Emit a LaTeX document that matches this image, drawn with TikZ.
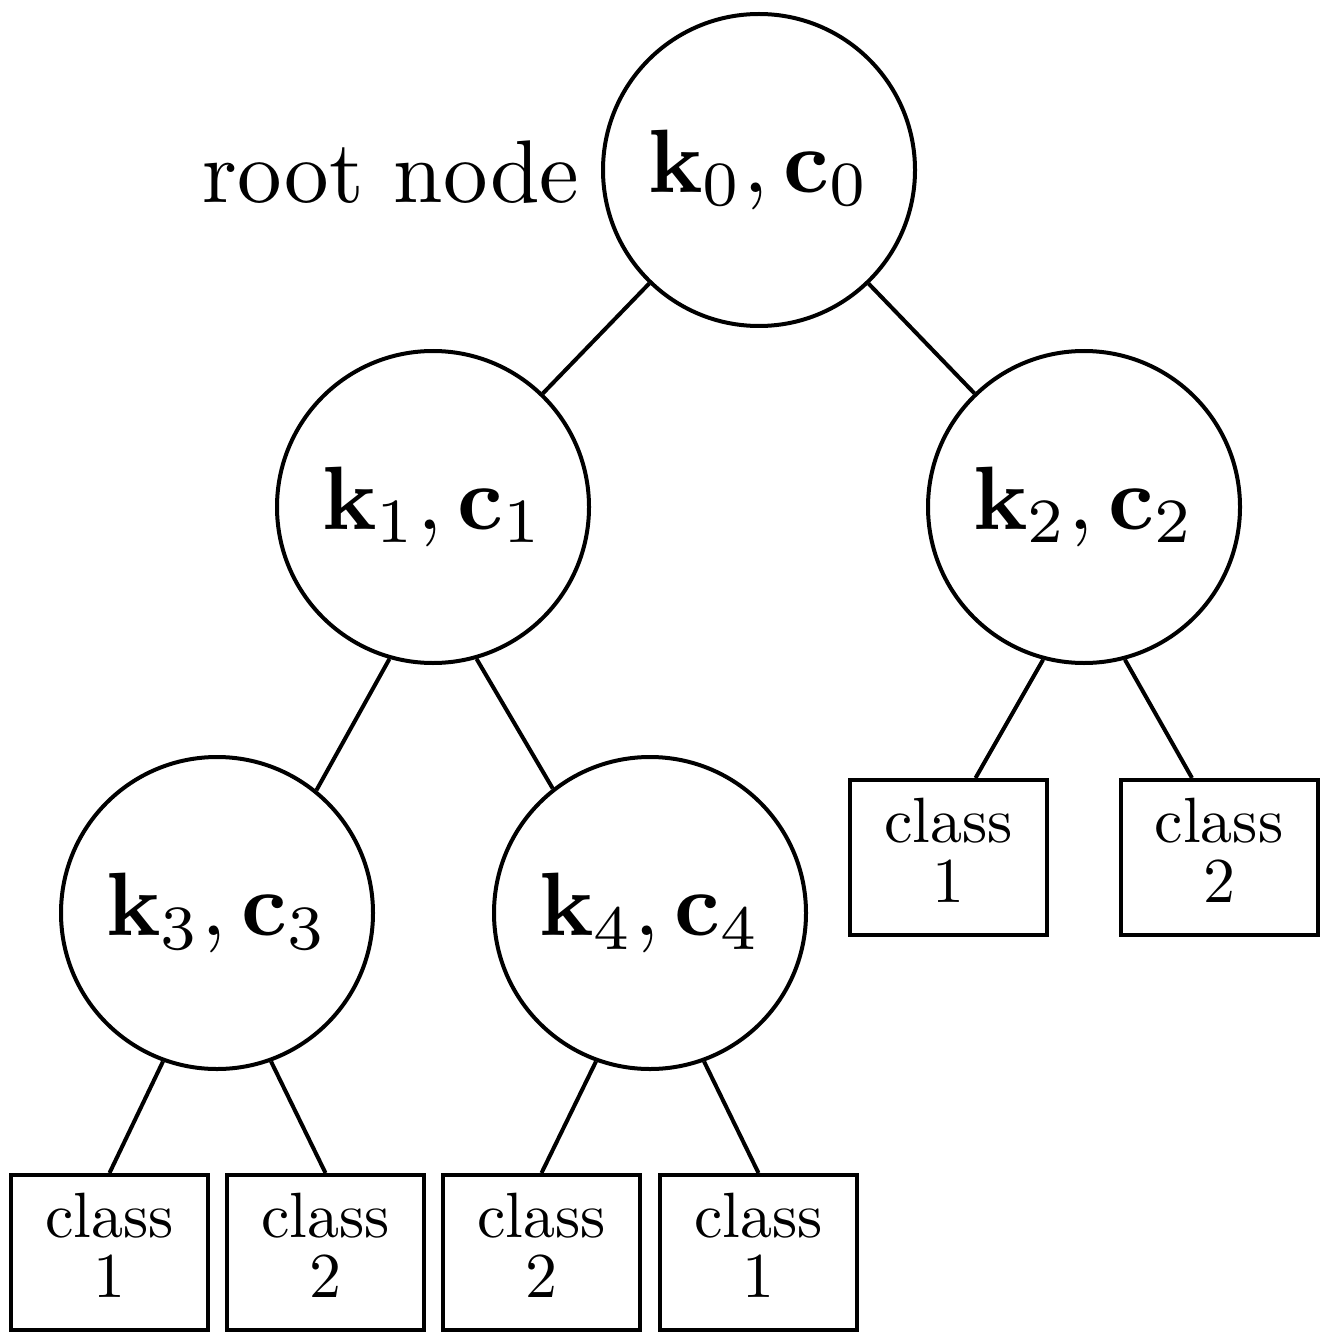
\documentclass[tikz,border=0pt]{standalone}
\usepackage{graphicx}
\newcommand{\cls}[1]{\scalebox{3.2}{\begin{tabular}{@{}c@{}}class\\[-2.6pt]#1\end{tabular}}}
\newcommand{\kc}[1]{\scalebox{4.5}{$\mathbf{k}_{#1},\mathbf{c}_{#1}$}}
\begin{document}
\begin{tikzpicture}[x=0.5pt,y=-0.5pt,line width=2pt,
  cn/.style={circle,draw,minimum size=156pt,inner sep=0pt},
  cb/.style={rectangle,draw,minimum width=98.5pt,minimum height=77.5pt,inner sep=0pt,align=center}]
\useasboundingbox (0,0) rectangle (1329,1342);
\node[cn] (k0) at (759,170) {\kc0};
\node[cn] (k1) at (433,507) {\kc1};
\node[cn] (k2) at (1084,507) {\kc2};
\node[cn] (k3) at (217,913) {\kc3};
\node[cn] (k4) at (650,913) {\kc4};
\node (root) at (391,172) {\scalebox{4.45}{root node}};
\node[cb] (r1) at (948.5,857.5) {\cls1};
\node[cb] (r2) at (1219,857.5) {\cls2};
\node[cb] (b1) at (109.5,1252.5) {\cls1};
\node[cb] (b2) at (325.5,1252.5) {\cls2};
\node[cb] (b3) at (541.5,1252.5) {\cls2};
\node[cb] (b4) at (758.5,1252.5) {\cls1};
\draw (k0) -- (k1);
\draw (k0) -- (k2);
\draw (k1.254) -- (k3.51);
\draw (k1.286) -- (k4.128);
\draw (k2.255) -- ([xshift=13.5pt]r1.north);
\draw (k2.285) -- ([xshift=-13.5pt]r2.north);
\draw (k3.250) -- (b1.north);
\draw (k3.290) -- (b2.north);
\draw (k4.250) -- (b3.north);
\draw (k4.290) -- (b4.north);
\end{tikzpicture}
\end{document}
